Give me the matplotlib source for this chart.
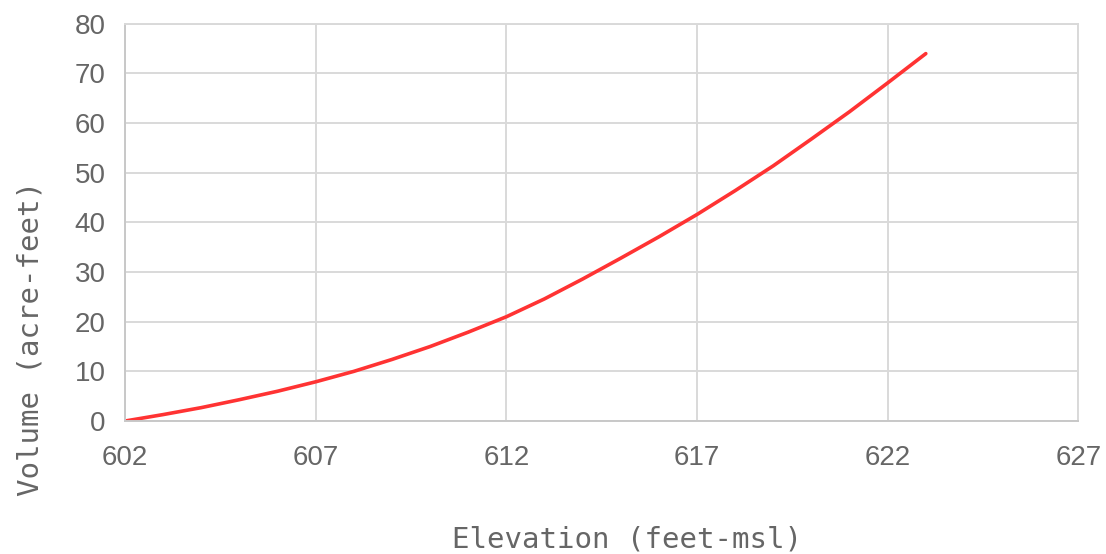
import matplotlib
matplotlib.use("Agg")
import matplotlib.pyplot as plt

elevacao = [602, 603, 604, 605, 606, 607, 608, 609, 610, 611, 612,
            613, 614, 615, 616, 617, 618, 619, 620, 621, 622, 623]
volume = [0.0, 1.3, 2.7, 4.3, 6.0, 7.9, 10.0, 12.4, 15.0, 17.9, 21.0,
          24.6, 28.6, 32.8, 37.1, 41.6, 46.4, 51.4, 56.8, 62.3, 68.1, 74.0]

x_ticks = [602, 607, 612, 617, 622, 627]
y_ticks = [0, 10, 20, 30, 40, 50, 60, 70, 80]

grade = "#d9d9d9"
texto = "#666666"

fig = plt.figure(figsize=(11.06, 5.54), dpi=100)
ax = fig.add_axes([0.113, 0.240, 0.862, 0.717])

ax.plot(elevacao, volume, color="#ff3333", linewidth=2.6, solid_capstyle="round")

ax.set_xlim(602, 627)
ax.set_ylim(0, 80)
ax.set_xticks(x_ticks)
ax.set_yticks(y_ticks)
ax.grid(True, color=grade, linewidth=1.4)
ax.set_axisbelow(True)
for s in ax.spines.values():
    s.set_color(grade)
    s.set_linewidth(1.4)
ax.spines["left"].set_color("#c8c8c8")
ax.spines["bottom"].set_color("#c8c8c8")
ax.tick_params(length=0, labelsize=20, labelcolor=texto)
ax.tick_params(axis="x", pad=17)
ax.tick_params(axis="y", pad=14)
for lbl in ax.get_xticklabels() + ax.get_yticklabels():
    lbl.set_family("Liberation Sans")

ax.set_xlabel("Elevation (feet-msl)", family="DejaVu Sans Mono", fontsize=21,
              color=texto)
ax.set_ylabel("Volume (acre-feet)", family="DejaVu Sans Mono", fontsize=21,
              color=texto)
ax.xaxis.set_label_coords(0.527, -0.262)
ax.yaxis.set_label_coords(-0.084, 0.207)

fig.savefig("out.png", dpi=100)
